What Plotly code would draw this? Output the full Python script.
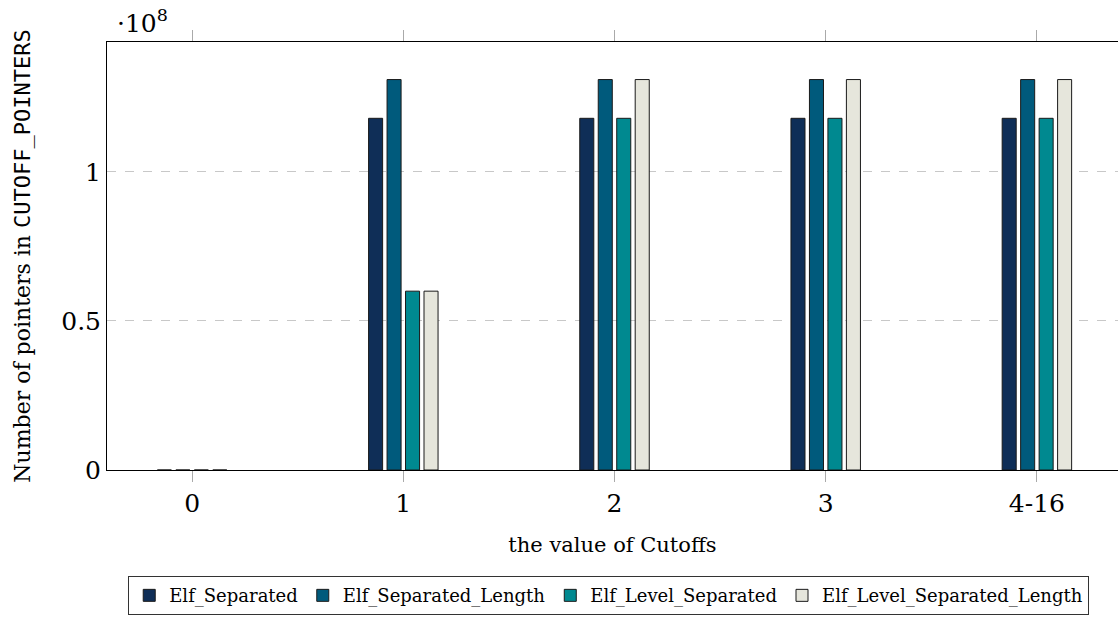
import plotly.graph_objects as go

# Cutoff buckets and pointer counts per layout variant
categories = ["0", "1", "2", "3", "4-16"]
elf_separated = [0, 1.18e8, 1.18e8, 1.18e8, 1.18e8]
elf_separated_length = [0, 1.31e8, 1.31e8, 1.31e8, 1.31e8]
elf_level_separated = [0, 0.60e8, 1.18e8, 1.18e8, 1.18e8]
elf_level_separated_length = [0, 0.60e8, 1.31e8, 1.31e8, 1.31e8]

series = [
    ("Elf_Separated", elf_separated, "#0f2e57"),
    ("Elf_Separated_Length", elf_separated_length, "#005a7c"),
    ("Elf_Level_Separated", elf_level_separated, "#008990"),
    ("Elf_Level_Separated_Length", elf_level_separated_length, "#e6e6dc"),
]

xpos = list(range(len(categories)))
serif = "DejaVu Serif"

fig = go.Figure()
for name, vals, color in series:
    fig.add_trace(go.Bar(
        x=xpos, y=vals, name=name,
        marker=dict(color=color, line=dict(color="#1a1a1a", width=1)),
    ))

fig.update_layout(
    width=1118, height=623,
    margin=dict(l=107, r=0, t=42, b=153),
    paper_bgcolor="white", plot_bgcolor="white",
    barmode="group", bargap=0.65, bargroupgap=0.24,
    font=dict(family=serif, color="black"),
    showlegend=True,
    legend=dict(
        orientation="h", x=0.021, y=-0.248, xanchor="left", yanchor="top",
        bordercolor="#333", borderwidth=1,
        font=dict(family=serif, size=18),
        traceorder="normal", itemwidth=30,
    ),
    xaxis=dict(
        range=[-0.403, 4.384],
        tickvals=xpos, ticktext=categories,
        tickfont=dict(size=25),
        ticks="outside", ticklen=11, tickcolor="#aaaaaa",
        showline=True, linecolor="black", linewidth=1, mirror="ticks",
        showgrid=False, zeroline=False,
        title=dict(text="the value of Cutoffs", font=dict(size=21), standoff=20),
    ),
    yaxis=dict(
        range=[0, 1.436e8],
        tickvals=[0, 0.5e8, 1e8], ticktext=["0", "0.5", "1"],
        tickfont=dict(size=25),
        ticks="", showline=True, linecolor="black", linewidth=1,
        showgrid=True, gridcolor="#c8c8c8", griddash="dash", gridwidth=1,
        zeroline=False,
        title=dict(
            text='Number of pointers in <span style="font-family:\'DejaVu Sans Mono\'">CUTOFF_POINTERS</span>',
            font=dict(size=22), standoff=24,
        ),
    ),
    annotations=[dict(
        xref="paper", yref="paper", x=0.0, y=1.0, xanchor="left", yanchor="bottom",
        text="·10<sup>8</sup>", showarrow=False, font=dict(size=25, family=serif),
        xshift=8, yshift=2,
    )],
)

fig.write_html("out.html")
